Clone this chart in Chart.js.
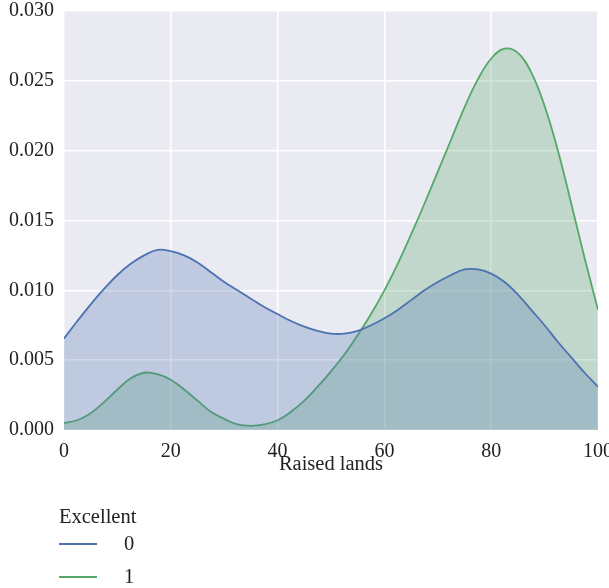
<!DOCTYPE html>
<html>
<head>
<meta charset="utf-8">
<script src="https://cdn.jsdelivr.net/npm/chart.js@4.4.0/dist/chart.umd.min.js"></script>
<style>
  html, body { margin: 0; padding: 0; background: #fff; }
</style>
</head>
<body>
<canvas id="myChart" width="609" height="588"></canvas>
<script>
// values
const xValues = [0, 2.5, 5, 7.5, 10, 12.5, 15, 17.5, 20, 22.5, 25, 27.5, 30, 32.5, 35, 37.5, 40,
  42.5, 45, 47.5, 50, 52.5, 55, 57.5, 60, 62.5, 65, 67.5, 70, 72.5, 75, 77.5, 80, 82.5, 85, 87.5,
  90, 92.5, 95, 97.5, 100];
const excellent0 = [0.00655, 0.0078, 0.0090, 0.0101, 0.0111, 0.0119, 0.0125, 0.0129, 0.0128, 0.0125,
  0.0120, 0.0113, 0.0106, 0.0100, 0.0094, 0.0088, 0.0083, 0.0078, 0.0074, 0.0071, 0.0069, 0.0069,
  0.0071, 0.0075, 0.0080, 0.0086, 0.0093, 0.0100, 0.0106, 0.0111, 0.0115, 0.0115, 0.0112, 0.0106,
  0.0097, 0.0086, 0.0075, 0.0063, 0.0052, 0.0041, 0.0031];
const excellent1 = [0.0005, 0.0007, 0.0012, 0.0020, 0.0029, 0.0037, 0.0041, 0.0040, 0.0036, 0.0029,
  0.0021, 0.0013, 0.0008, 0.0004, 0.0003, 0.0004, 0.0007, 0.0013, 0.0021, 0.0031, 0.0042, 0.0054,
  0.0068, 0.0083, 0.0100, 0.0119, 0.0140, 0.0162, 0.0185, 0.0208, 0.0231, 0.0251, 0.0266, 0.0273,
  0.0270, 0.0256, 0.0232, 0.0200, 0.0162, 0.0123, 0.0086];
const xTicks = [0, 20, 40, 60, 80, 100];
const yTicks = [0, 0.005, 0.010, 0.015, 0.020, 0.025, 0.030];
const legendTitle = "Excellent";
const seriesNames = ["0", "1"];
const xTitle = "Raised lands";

const serif = "'Liberation Serif', 'Times New Roman', serif";

function toPoints(ys) {
  return ys.map((y, i) => ({ x: xValues[i], y: y }));
}

// grey panel behind the plot
const panelBg = {
  id: 'panelBg',
  beforeDraw(chart) {
    const a = chart.chartArea;
    const ctx = chart.ctx;
    ctx.save();
    ctx.fillStyle = '#EAEAF2';
    ctx.fillRect(a.left, a.top, a.right - a.left, a.bottom - a.top);
    ctx.restore();
  }
};

// seaborn style legend under the plot
const bottomLegend = {
  id: 'bottomLegend',
  afterDraw(chart) {
    const ctx = chart.ctx;
    ctx.save();
    ctx.font = '20.5px ' + serif;
    ctx.fillStyle = '#222';
    ctx.textBaseline = 'middle';
    ctx.textAlign = 'left';
    ctx.fillText(legendTitle, 59, 518);
    chart.data.datasets.forEach((ds, i) => {
      const y = 544 + i * 33;
      ctx.strokeStyle = ds.borderColor;
      ctx.lineWidth = 1.8;
      ctx.beginPath();
      ctx.moveTo(59, y);
      ctx.lineTo(97, y);
      ctx.stroke();
      ctx.textAlign = 'center';
      ctx.fillText(ds.label, 129, y + 1);
    });
    ctx.restore();
  }
};

const ctx = document.getElementById('myChart').getContext('2d');
new Chart(ctx, {
  type: 'line',
  data: {
    datasets: [
      {
        label: seriesNames[0],
        data: toPoints(excellent0),
        borderColor: '#4C72B0',
        backgroundColor: 'rgba(76,114,176,0.27)',
        borderWidth: 1.8,
        fill: 'origin',
        tension: 0.4,
        pointRadius: 0
      },
      {
        label: seriesNames[1],
        data: toPoints(excellent1),
        borderColor: '#55A868',
        backgroundColor: 'rgba(85,168,104,0.27)',
        borderWidth: 1.8,
        fill: 'origin',
        tension: 0.4,
        pointRadius: 0
      }
    ]
  },
  options: {
    responsive: false,
    animation: false,
    layout: { padding: { top: 11, right: 11, bottom: 111, left: 0 } },
    plugins: {
      legend: { display: false },
      tooltip: { enabled: false }
    },
    scales: {
      x: {
        type: 'linear',
        min: 0,
        max: 100,
        afterBuildTicks: s => { s.ticks = xTicks.map(v => ({ value: v })); },
        afterFit: s => { s.height = 47; s.paddingLeft = 0; s.paddingRight = 0; },
        ticks: { font: { family: serif, size: 20 }, color: '#222', padding: 10 },
        grid: { color: '#ffffff', lineWidth: 1.5, drawTicks: false },
        border: { display: false },
        title: { display: true, text: xTitle, font: { family: serif, size: 20.5 }, color: '#222', padding: 0 }
      },
      y: {
        min: 0,
        max: 0.030,
        afterBuildTicks: s => { s.ticks = yTicks.map(v => ({ value: v })); },
        afterFit: s => { s.width = 64; s.paddingTop = 0; s.paddingBottom = 0; },
        ticks: {
          font: { family: serif, size: 20 },
          color: '#222',
          padding: 10,
          callback: v => v.toFixed(3)
        },
        grid: { color: '#ffffff', lineWidth: 1.5, drawTicks: false },
        border: { display: false }
      }
    }
  },
  plugins: [panelBg, bottomLegend]
});
</script>
</body>
</html>
